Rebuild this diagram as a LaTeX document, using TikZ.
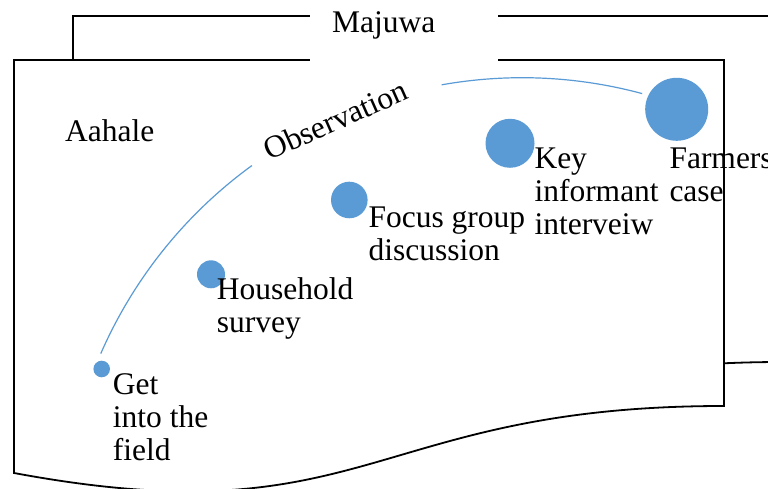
\documentclass[tikz,border=0pt]{standalone}
\usepackage{fontspec}
\setmainfont{Liberation Serif}
\definecolor{accent}{HTML}{5B9BD5}
\begin{document}
\begin{tikzpicture}[x=1pt,y=1pt,
  docedge/.style={draw=black, line width=1.8pt, fill=white},
  dot/.style={circle, fill=accent, draw=none, inner sep=0pt},
  lbl/.style={font=\fontsize{31.5}{33}\selectfont, align=left, anchor=base west, inner sep=0pt},
  arcline/.style={draw=accent, line width=1.2pt}]
\useasboundingbox (0,0) rectangle (768,489);
\begin{scope}
  \clip (0,0) rectangle (768,489);
  % sheet behind
  \draw[docedge] (73,60) -- (73,473) -- (783,473) -- (783,127)
    .. controls (428,127) and (428,-6) .. (73,60) -- cycle;
  % sheet in front
  \draw[docedge] (14,16) -- (14,429) -- (724,429) -- (724,83)
    .. controls (369,83) and (369,-50) .. (14,16) -- cycle;
  % gap in the top edges for the title
  \fill[white] (310,422) rectangle (498,480);
\end{scope}

\node[lbl] (title) at (332,456) {Majuwa};
\node[lbl] (place) at (65,347.3) {Aahale};

% stages, growing in size
\node[dot, minimum size=16.6pt] (get) at (101.7,120) {};
\node[dot, minimum size=28pt] (house) at (211,214.7) {};
\node[dot, minimum size=36.6pt] (focus) at (349.3,289) {};
\node[dot, minimum size=49pt] (key) at (510,345.7) {};
\node[dot, minimum size=63pt] (farm) at (676.7,379.7) {};

% labels are placed by the baseline of their last line
\node[lbl] (getlbl) at (112.7,28) {Get\\into the\\field};
\node[lbl] (houselbl) at (216.7,156) {Household\\survey};
\node[lbl] (focuslbl) at (368.3,228) {Focus group\\discussion};
\node[lbl] (keylbl) at (534.3,254.7) {Key\\informant\\interveiw};
\node[lbl] (farmlbl) at (669.3,287.7) {Farmers\\case};

% observation arc
\coordinate (arcc) at (522.3,-48.7);
\draw[arcline] ([shift={(156.4:460)}]arcc) arc[start angle=156.4, end angle=126, radius=460];
\draw[arcline] ([shift={(100.1:460)}]arcc) arc[start angle=100.1, end angle=74.9, radius=460];
\node[font=\fontsize{31.5}{33}\selectfont, anchor=base, rotate=24, inner sep=0pt] (obs)
  at ([shift={(114.1:447)}]arcc) {Observation};
\end{tikzpicture}
\end{document}
